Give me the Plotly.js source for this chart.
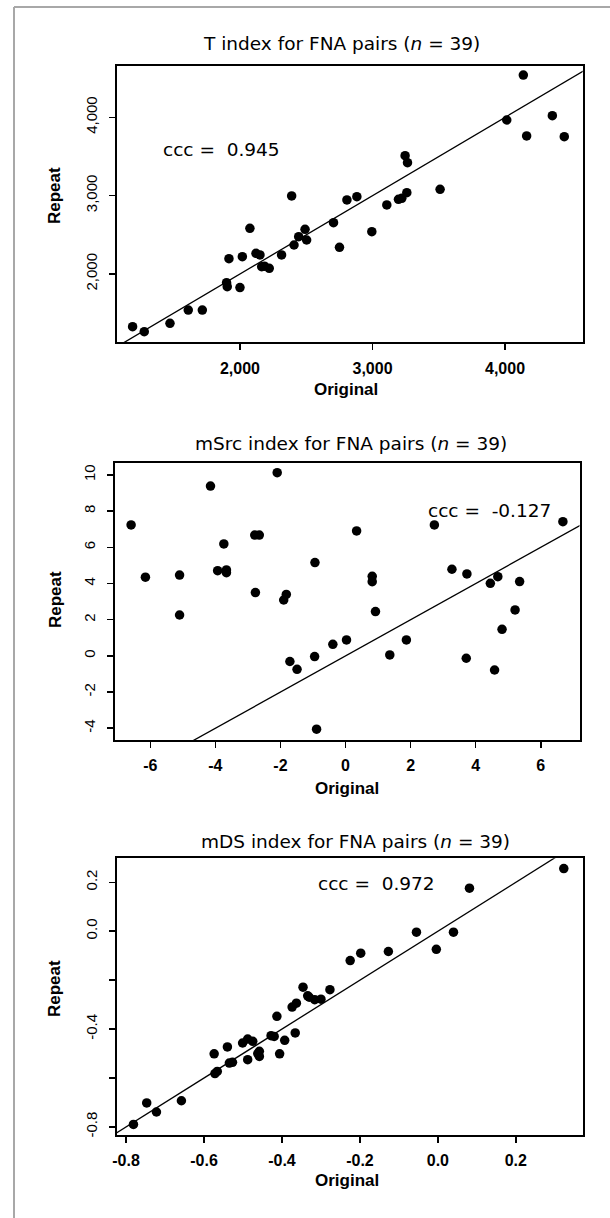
<!DOCTYPE html>
<html>
<head>
<meta charset="utf-8">
<script src="https://cdn.plot.ly/plotly-3.0.1.min.js"></script>
<style>
  html, body { margin: 0; padding: 0; background: #ffffff; }
  #chart { width: 610px; height: 1218px; }
</style>
</head>
<body>
<div id="chart"></div>
<script>
// ---------------- DATA ----------------
const tOriginal = [1190, 1278, 1472, 1610, 1716, 1899, 1904, 1917, 2000, 2018,
                   2075, 2121, 2151, 2164, 2221, 2185, 2314, 2390, 2408, 2443,
                   2491, 2503, 2706, 2751, 2807, 2882, 2995, 3108, 3196, 3221,
                   3259, 3246, 3264, 3510, 4013, 4138, 4163, 4357, 4447];
const tRepeat   = [1328, 1264, 1370, 1540, 1540, 1889, 1838, 2196, 1826, 2221,
                   2583, 2264, 2243, 2094, 2072, 2100, 2243, 2996, 2370, 2477,
                   2570, 2434, 2655, 2340, 2945, 2987, 2540, 2881, 2953, 2966,
                   3038, 3511, 3421, 3081, 3966, 4540, 3762, 4021, 3753];

const mSrcOriginal = [-6.59, -6.15, -5.10, -5.10, -4.15, -3.93, -3.74, -3.66, -3.66, -2.79,
                      -2.65, -2.77, -2.10, -1.90, -1.82, -1.71, -1.49, -0.94, -0.95, -0.89,
                      -0.39, 0.03, 0.34, 0.82, 0.82, 0.92, 1.36, 1.87, 2.73, 3.27,
                      3.73, 3.71, 4.45, 4.68, 4.58, 4.81, 5.21, 5.35, 6.68];
const mSrcRepeat   = [7.24, 4.35, 4.47, 2.26, 9.39, 4.71, 6.19, 4.75, 4.60, 6.68,
                      6.68, 3.50, 10.13, 3.09, 3.40, -0.31, -0.74, 5.16, -0.04, -4.05,
                      0.64, 0.88, 6.91, 4.40, 4.10, 2.45, 0.05, 0.88, 7.24, 4.79,
                      4.53, -0.13, 4.01, 4.38, -0.78, 1.47, 2.54, 4.11, 7.42];

const mDSOriginal = [-0.781, -0.747, -0.722, -0.658, -0.574, -0.572, -0.566, -0.540, -0.535, -0.527,
                     -0.501, -0.488, -0.488, -0.475, -0.458, -0.458, -0.428, -0.413, -0.406, -0.393,
                     -0.374, -0.363, -0.366, -0.346, -0.334, -0.316, -0.300, -0.277, -0.225, -0.198,
                     -0.127, -0.055, -0.004, 0.040, 0.081, 0.323, -0.462, -0.330, -0.420];
const mDSRepeat   = [-0.790, -0.702, -0.739, -0.693, -0.501, -0.582, -0.573, -0.473, -0.539, -0.536,
                     -0.457, -0.441, -0.525, -0.450, -0.491, -0.512, -0.427, -0.348, -0.501, -0.446,
                     -0.310, -0.294, -0.416, -0.229, -0.264, -0.280, -0.278, -0.239, -0.120, -0.090,
                     -0.083, -0.004, -0.074, -0.004, 0.176, 0.256, -0.500, -0.270, -0.430];

const panelTitles = ["T index for FNA pairs (<i>n</i> = 39)",
                     "mSrc index for FNA pairs (<i>n</i> = 39)",
                     "mDS index for FNA pairs (<i>n</i> = 39)"];
const cccValues = ["0.945", "-0.127", "0.972"];
const xAxisLabel = "Original";
const yAxisLabel = "Repeat";

const tXTicks = [2000, 3000, 4000];
const tXTickText = ["2,000", "3,000", "4,000"];
const tYTicks = [2000, 3000, 4000];
const tYTickText = ["2,000", "3,000", "4,000"];

const mSrcXTicks = [-6, -4, -2, 0, 2, 4, 6];
const mSrcXTickText = ["-6", "-4", "-2", "0", "2", "4", "6"];
const mSrcYTicks = [-4, -2, 0, 2, 4, 6, 8, 10];
const mSrcYTickText = ["-4", "-2", "0", "2", "4", "6", "8", "10"];

const mDSXTicks = [-0.8, -0.6, -0.4, -0.2, 0.0, 0.2];
const mDSXTickText = ["-0.8", "-0.6", "-0.4", "-0.2", "0.0", "0.2"];
const mDSYTicks = [-0.8, -0.6, -0.4, -0.2, 0.0, 0.2];
const mDSYTickText = ["-0.8", "", "-0.4", "", "0.0", "0.2"];

// ---------------- LAYOUT HELPERS ----------------
const W = 610, H = 1218;
const fx = p => p / W;
const fy = p => 1 - p / H;

const panels = [
  { x: tOriginal, y: tRepeat, box: [116.7, 582.7, 65.7, 342.3],
    xr: [1070, 4586], yr: [1128, 4659],
    xt: tXTicks, xtt: tXTickText, yt: tYTicks, ytt: tYTickText,
    title: panelTitles[0], titlePos: [341, 43.5],
    ccc: cccValues[0], cccPos: [221.7, 150],
    xlabPos: [346, 390], ylabPos: [54, 196] },
  { x: mSrcOriginal, y: mSrcRepeat, box: [114.5, 579.5, 462.7, 740],
    xr: [-7.1, 7.19], yr: [-4.65, 10.68],
    xt: mSrcXTicks, xtt: mSrcXTickText, yt: mSrcYTicks, ytt: mSrcYTickText,
    title: panelTitles[1], titlePos: [350.5, 443],
    ccc: cccValues[1], cccPos: [489, 510],
    xlabPos: [346.7, 788], ylabPos: [55, 600] },
  { x: mDSOriginal, y: mDSRepeat, box: [116.7, 582.5, 858.3, 1134.5],
    xr: [-0.824, 0.371], yr: [-0.831, 0.298],
    xt: mDSXTicks, xtt: mDSXTickText, yt: mDSYTicks, ytt: mDSYTickText,
    title: panelTitles[2], titlePos: [355.5, 841.7],
    ccc: cccValues[2], cccPos: [376.7, 883.3],
    xlabPos: [346.7, 1180], ylabPos: [55, 989] }
];

const data = [];
const layout = {
  width: W, height: H,
  margin: { l: 0, r: 0, t: 0, b: 0 },
  paper_bgcolor: "#ffffff",
  plot_bgcolor: "#ffffff",
  showlegend: false,
  annotations: [],
  shapes: [
    { type: "line", xref: "paper", yref: "paper", x0: fx(14), x1: 1.02, y0: fy(7), y1: fy(7),
      line: { color: "#a8a8a8", width: 2 } },
    { type: "line", xref: "paper", yref: "paper", x0: fx(14), x1: fx(14), y0: fy(7), y1: -0.02,
      line: { color: "#a8a8a8", width: 2 } }
  ]
};

const tickFontX = { family: "Liberation Sans, Arial, sans-serif", size: 16, color: "#000", weight: 700 };
const tickFontY = { family: "Liberation Sans, Arial, sans-serif", size: 15, color: "#000" };
const textFont = { family: "DejaVu Sans, sans-serif", size: 18.5, color: "#000" };
const labFont = { family: "Liberation Sans, Arial, sans-serif", size: 17, color: "#000", weight: 700 };

panels.forEach((p, i) => {
  const n = i + 1;
  const xa = "x" + (n === 1 ? "" : n), ya = "y" + (n === 1 ? "" : n);
  const xk = "xaxis" + (n === 1 ? "" : n), yk = "yaxis" + (n === 1 ? "" : n);

  // identity line (y = x) spanning the axis range
  const lo = Math.min(p.xr[0], p.yr[0]), hi = Math.max(p.xr[1], p.yr[1]);
  data.push({ type: "scatter", mode: "lines", x: [lo, hi], y: [lo, hi],
              xaxis: xa, yaxis: ya, line: { color: "#000", width: 1.3 }, hoverinfo: "skip" });
  data.push({ type: "scatter", mode: "markers", x: p.x, y: p.y, xaxis: xa, yaxis: ya,
              marker: { color: "#000", size: 9.5 }, cliponaxis: false });

  const common = {
    showgrid: false, zeroline: false, showline: true, mirror: true,
    linecolor: "#000", linewidth: 2, ticks: "outside", ticklen: 6, tickwidth: 1.5,
    tickcolor: "#000", tickmode: "array", fixedrange: true
  };
  layout[xk] = Object.assign({}, common, {
    domain: [fx(p.box[0]), fx(p.box[1])], anchor: ya, range: p.xr,
    tickvals: p.xt, ticktext: p.xtt, tickfont: tickFontX, ticklabelstandoff: 4
  });
  layout[yk] = Object.assign({}, common, {
    domain: [fy(p.box[3]), fy(p.box[2])], anchor: xa, range: p.yr,
    tickvals: p.yt, ticktext: p.ytt, tickfont: tickFontY, tickangle: -90, ticklabelstandoff: 6
  });

  layout.annotations.push(
    { xref: "paper", yref: "paper", x: fx(p.titlePos[0]), y: fy(p.titlePos[1]),
      text: p.title, showarrow: false, xanchor: "center", yanchor: "middle", font: textFont },
    { xref: "paper", yref: "paper", x: fx(p.cccPos[0]), y: fy(p.cccPos[1]),
      text: "ccc =\u00a0\u00a0" + p.ccc, showarrow: false, xanchor: "center", yanchor: "middle", font: textFont },
    { xref: "paper", yref: "paper", x: fx(p.xlabPos[0]), y: fy(p.xlabPos[1]),
      text: xAxisLabel, showarrow: false, xanchor: "center", yanchor: "middle", font: labFont },
    { xref: "paper", yref: "paper", x: fx(p.ylabPos[0]), y: fy(p.ylabPos[1]),
      text: yAxisLabel, showarrow: false, xanchor: "center", yanchor: "middle", textangle: -90, font: labFont }
  );
});

Plotly.newPlot("chart", data, layout, { staticPlot: true, displayModeBar: false });
</script>
</body>
</html>
